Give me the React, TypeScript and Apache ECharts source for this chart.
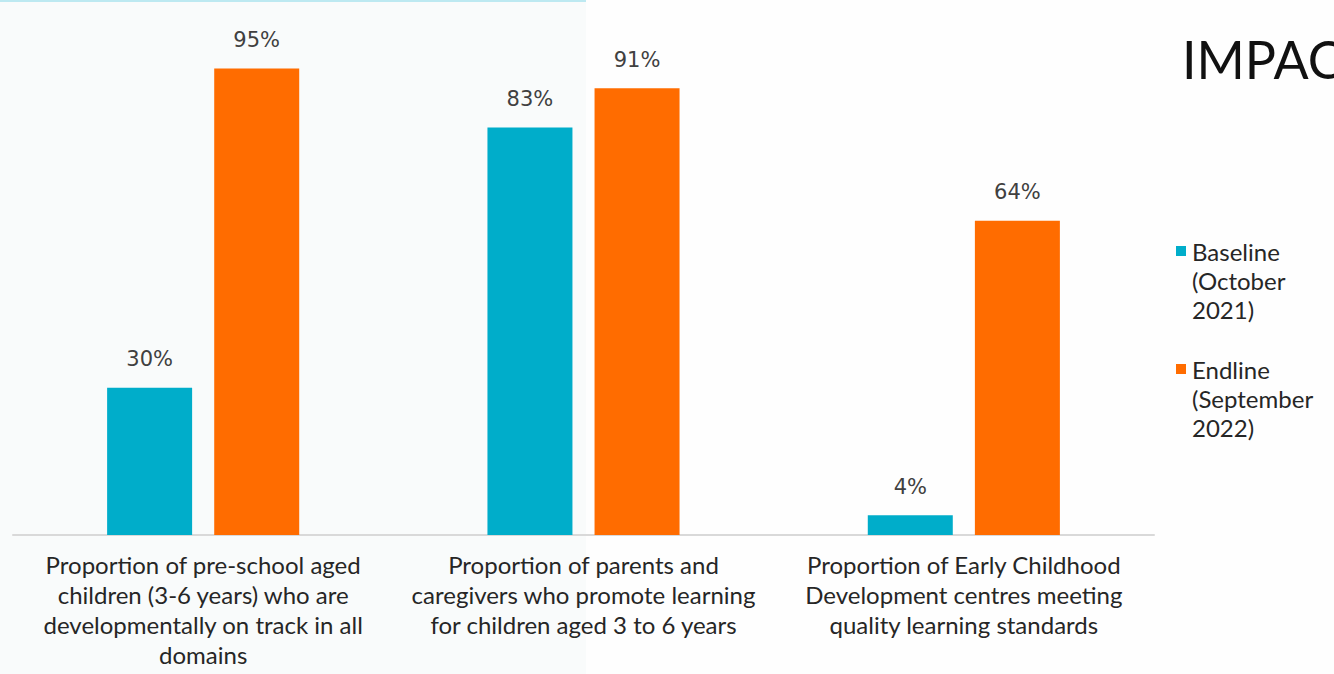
import React, { useEffect, useRef } from "react";
import * as echarts from "echarts";

const categories = [
  "Proportion of pre-school aged\nchildren (3-6 years) who are\ndevelopmentally on track in all\ndomains",
  "Proportion of parents and\ncaregivers who promote learning\nfor children aged 3 to 6 years",
  "Proportion of Early Childhood\nDevelopment centres meeting\nquality learning standards",
];
const baselineName = "Baseline (October 2021)";
const endlineName = "Endline (September 2022)";
const baselineValues = [30, 83, 4];
const endlineValues = [95, 91, 64];

const BLUE = "#00ADCA";
const ORANGE = "#FF6C00";
const FONT = "Lato";

export default function App() {
  const ref = useRef<HTMLDivElement>(null);
  useEffect(() => {
    if (!ref.current) return;
    const chart = echarts.init(ref.current, undefined, { renderer: "svg" });
    const label = {
      show: true,
      position: "top",
      distance: 18,
      fontFamily: "DejaVu Sans",
      fontSize: 21,
      color: "#404040",
      formatter: "{c}%",
    };
    chart.setOption({
      animation: false,
      backgroundColor: "#fefefe",
      graphic: [
        { type: "rect", z: -10, silent: true, shape: { x: 0, y: 0, width: 586, height: 674 }, style: { fill: "#f9fbfb" } },
        { type: "rect", z: -9, silent: true, shape: { x: 0, y: 0, width: 586, height: 2 }, style: { fill: "#bde9f1" } },
        {
          type: "text",
          x: 1182,
          y: 59,
          style: {
            text: "IMPAC",
            fontFamily: FONT,
            fontSize: 52,
            fill: "#111111",
            verticalAlign: "middle",
            align: "left",
          },
        },
      ],
      grid: { left: 13, right: 180, top: 44, bottom: 139, containLabel: false },
      legend: {
        orient: "vertical",
        left: 1171,
        top: 239,
        padding: 0,
        icon: "none",
        itemWidth: 0,
        itemHeight: 10,
        itemGap: 36,
        selectedMode: false,
        data: [baselineName, endlineName],
        formatter: (name: string) => {
          if (name === baselineName) {
            return "{sq0|}{t1|Baseline}\n{t2|(October}\n{t2|2021)}";
          }
          return "{sq1|}{t1|Endline}\n{t2|(September}\n{t2|2022)}";
        },
        textStyle: {
          fontFamily: FONT,
          fontSize: 24,
          color: "#262626",
          rich: {
            sq0: { width: 10, height: 10, backgroundColor: BLUE },
            sq1: { width: 10, height: 10, backgroundColor: ORANGE },
            t1: { fontFamily: FONT, fontSize: 24, lineHeight: 29, color: "#262626", padding: [0, 0, 0, 6] },
            t2: { fontFamily: FONT, fontSize: 24, lineHeight: 29, color: "#262626", padding: [0, 0, 0, 16] },
          },
        },
      },
      xAxis: {
        type: "category",
        data: categories,
        axisLine: { show: true, lineStyle: { color: "#d9d9d9", width: 2 } },
        axisTick: { show: false },
        axisLabel: {
          interval: 0,
          fontFamily: FONT,
          fontSize: 24,
          color: "#262626",
          lineHeight: 30,
          margin: 14,
        },
      },
      yAxis: {
        type: "value",
        min: 0,
        max: 100,
        show: false,
        splitLine: { show: false },
      },
      series: [
        {
          name: baselineName,
          type: "bar",
          data: baselineValues,
          barWidth: 85,
          barGap: "26%",
          itemStyle: { color: BLUE },
          label,
        },
        {
          name: endlineName,
          type: "bar",
          data: endlineValues,
          barWidth: 85,
          barGap: "26%",
          itemStyle: { color: ORANGE },
          label,
        },
      ],
    });
    return () => chart.dispose();
  }, []);
  return (
    <div
      ref={ref}
      style={{ position: "absolute", left: 0, top: 0, width: 1334, height: 674 }}
    />
  );
}
